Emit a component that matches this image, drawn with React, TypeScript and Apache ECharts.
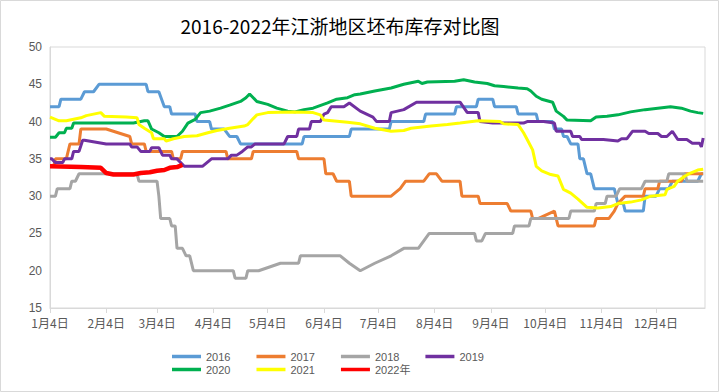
import React, { useEffect, useRef } from "react";
import * as echarts from "echarts";

const TITLE = "2016-2022年江浙地区坯布库存对比图";
const MONTH_DAYS = [31, 28, 31, 30, 31, 30, 31, 31, 30, 31, 30, 31];
// daily categories from 1月4日 to 12月31日
const categories: string[] = [];
MONTH_DAYS.forEach((n, mi) => {
  for (let d = 1; d <= n; d++) {
    if (mi === 0 && d < 4) continue;
    categories.push(`${mi + 1}月${d}日`);
  }
});

const seriesNames = ["2016", "2017", "2018", "2019", "2020", "2021", "2022年"];
const seriesColors = ["#5B9BD5", "#ED7D31", "#A5A5A5", "#7030A0", "#00B050", "#FFFF00", "#FF0000"];

// [day index from 1月4日, inventory]
const s2016 = [[0,42],[5,42],[6,43],[17,43],[19,44],[24,44],[27,45],[53,45],[54,44],[60,44],[63,42],[66,42],[67,41],[80,41],[81,40],[88,40],[89,39],[96,39],[99,38],[103,38],[105,37],[139,37],[140,38],[165,38],[166,39],[187,39],[188,40],[206,40],[207,41],[223,41],[224,42],[235,42],[236,43],[244,43],[245,42],[257,42],[258,41],[268,41],[269,40],[277,40],[278,39],[282,39],[283,38],[285,38],[287,37],[291,37],[292,35],[294,35],[296,33],[298,33],[300,31],[311,31],[313,29],[316,29],[317,28],[327,28],[328,30],[334,30],[336,31],[341,31],[343,32],[357,32],[359,33],[360,33]];
const s2017 = [[0,34],[2,34],[3,35],[9,35],[11,37],[16,37],[17,39],[31,39],[44,38],[45,37],[52,37],[53,36],[67,36],[68,35],[72,35],[73,36],[97,36],[98,35],[111,35],[112,36],[136,36],[137,35],[151,35],[152,33],[156,33],[158,32],[165,32],[166,30],[188,30],[193,31],[196,32],[206,32],[209,33],[213,33],[216,32],[226,32],[227,30],[236,30],[237,29],[252,29],[254,28],[265,28],[266,27],[269,27],[278,28],[280,26],[300,26],[301,27],[308,27],[311,28],[313,29],[317,30],[327,30],[328,31],[335,31],[336,32],[348,32],[350,33],[360,33]];
const s2018 = [[0,30],[3,30],[4,31],[11,31],[12,32],[14,32],[16,33],[48,33],[49,32],[59,32],[60,30],[61,27],[66,27],[67,26],[69,26],[70,23],[73,23],[75,22],[77,22],[79,20],[101,20],[102,19],[108,19],[109,20],[115,20],[127,21],[137,21],[138,22],[160,22],[165,21],[171,20],[179,21],[188,22],[195,23],[203,23],[209,25],[234,25],[235,24],[238,24],[240,25],[255,25],[256,26],[264,26],[265,27],[286,27],[287,28],[300,28],[301,29],[306,29],[307,30],[312,30],[314,31],[326,31],[328,32],[340,32],[341,33],[350,33],[351,32],[360,32]];
const s2019 = [[0,35],[1,35],[3,34.5],[7,34.5],[8,35],[12,35],[13,36],[16,36],[18,37.5],[19,37.5],[31,37],[44,37],[45,36.6],[48,36.6],[50,36],[55,36],[56,36.5],[60,36.5],[62,35.5],[66,35.5],[67,35],[70,35],[74,34],[84,34],[89,35],[98,35],[100,35.5],[103,35.5],[106,36],[109,36.6],[111,36.6],[113,37],[129,37],[131,38],[136,38],[137,39],[143,39],[144,40],[149,40],[151,41],[153,41.2],[155,42],[162,42],[165,42.5],[171,41.4],[178,40.6],[180,40],[187,40],[188,41.2],[195,41.6],[202,42.6],[226,42.6],[230,41.2],[236,41.2],[237,40],[244,39.8],[261,39.8],[263,40],[272,40],[278,39.8],[279,38.7],[287,38.7],[288,38],[292,38],[293,37.6],[305,37.6],[313,37.4],[315,37.7],[318,37.7],[321,38.7],[328,38.7],[330,38.4],[335,38.4],[337,38],[340,38],[343,38.7],[346,37.6],[351,37.6],[354,37.1],[358,37.1],[359,36.6],[360,37.8]];
const s2020 = [[0,37.9],[3,37.9],[5,38.5],[8,38.5],[9,39.1],[12,39.1],[13,39.8],[46,39.8],[52,40.1],[54,40.1],[56,39],[60,38.5],[63,38],[70,38],[73,38.7],[76,39.8],[80,40.3],[83,41.2],[88,41.4],[94,41.8],[99,42.2],[105,42.7],[108,43.2],[110,43.7],[114,42.7],[120,42.3],[125,41.8],[131,41.4],[135,41.3],[140,41.6],[145,41.8],[153,42.5],[158,43],[164,43.2],[168,43.6],[171,43.7],[179,44.1],[188,44.5],[195,45],[203,45.4],[205,45.1],[208,45.3],[223,45.4],[228,45.6],[234,45.3],[241,45.1],[245,44.8],[250,44.7],[258,44.5],[263,44.4],[265,44.1],[268,43.4],[271,43],[277,42.6],[279,41.4],[283,40.7],[285,40.2],[298,40.1],[301,40.6],[307,40.7],[313,40.9],[320,41.3],[328,41.6],[335,41.8],[342,42],[348,41.8],[353,41.4],[357,41.2],[360,41.1]];
const s2021 = [[0,40.6],[5,40.1],[9,40.1],[17,40.5],[20,40.8],[28,41.2],[30,40.7],[42,40.6],[48,40.5],[49,39.6],[52,39.1],[56,38.5],[57,37.7],[63,37.7],[64,37.4],[68,37.7],[74,38],[81,38.1],[87,38.5],[92,38.8],[99,39.1],[107,39.4],[109,39.6],[112,40.4],[114,40.9],[120,41.2],[134,41.3],[145,41.2],[149,40.9],[151,40.2],[164,39.9],[171,39.7],[179,39.1],[188,38.7],[195,38.8],[199,39.1],[210,39.4],[219,39.6],[226,39.8],[236,40.1],[248,40],[250,39.7],[258,39.6],[261,38.5],[263,37.6],[266,36.2],[268,34],[271,33.4],[276,32.9],[280,32.7],[283,30.9],[287,30.4],[291,29.6],[296,28.5],[302,28.4],[309,28.6],[313,29],[320,29.2],[326,29.5],[331,30],[339,30.2],[340,30.9],[344,31.3],[346,32],[350,32.7],[353,33.1],[357,33.5],[360,33.6]];
const s2022 = [[0,34],[17,33.9],[28,33.8],[31,33.1],[35,32.9],[46,32.9],[50,33.1],[55,33.2],[59,33.4],[63,33.5],[66,33.8],[70,33.9],[73,34.2]];

const seriesData = [s2016, s2017, s2018, s2019, s2020, s2021, s2022];
const yTicks = { min: 15, max: 50, interval: 5 };

const FONT = "'Noto Sans CJK SC', 'Noto Sans', sans-serif";
const LATIN_FONT = "'Liberation Sans', 'Noto Sans CJK SC', sans-serif";
const isTick = (_i: number, v: string) => /^\d+月4日$/.test(v);

export default function App() {
  const ref = useRef<HTMLDivElement>(null);
  useEffect(() => {
    if (!ref.current) return;
    const chart = echarts.init(ref.current, null, { renderer: "svg" });
    const legendCommon = {
      left: 172,
      itemWidth: 29,
      itemHeight: 3.5,
      itemGap: 26,
      icon: "rect",
      padding: 0,
      textStyle: { color: "#595959", fontSize: 11, lineHeight: 12, fontFamily: LATIN_FONT },
    };
    chart.setOption({
      animation: false,
      backgroundColor: "#ffffff",
      textStyle: { fontFamily: FONT },
      graphic: [
        {
          type: "rect",
          shape: { x: 0.5, y: 0.5, width: 718, height: 391 },
          style: { fill: "none", stroke: "#d9d9d9", lineWidth: 1 },
          silent: true,
        },
        {
          type: "text",
          x: 340,
          y: 25,
          style: {
            text: TITLE,
            fontSize: 19,
            fontFamily: FONT,
            fill: "#000000",
            textAlign: "center",
            textVerticalAlign: "middle",
          },
        },
      ],
      legend: [
        { ...legendCommon, top: 350.5, data: seriesNames.slice(0, 4) },
        { ...legendCommon, top: 363.5, data: seriesNames.slice(4) },
      ],
      grid: {
        left: 50,
        right: 14,
        top: 47,
        bottom: 84,
        show: true,
        borderColor: "#d9d9d9",
        borderWidth: 1,
      },
      xAxis: {
        type: "category",
        data: categories,
        boundaryGap: false,
        axisLine: { lineStyle: { color: "#d9d9d9" } },
        axisTick: { interval: isTick, length: 5, lineStyle: { color: "#d9d9d9" } },
        axisLabel: { interval: isTick, color: "#595959", fontSize: 12, margin: 8 },
        splitLine: { show: false },
      },
      yAxis: {
        type: "value",
        min: yTicks.min,
        max: yTicks.max,
        interval: yTicks.interval,
        axisLine: { show: true, lineStyle: { color: "#d9d9d9" } },
        axisTick: { show: false },
        axisLabel: { color: "#595959", fontSize: 12, margin: 8, fontFamily: LATIN_FONT },
        splitLine: { show: false },
      },
      series: seriesNames.map((name, i) => ({
        name,
        type: "line",
        data: seriesData[i],
        symbol: "none",
        color: seriesColors[i],
        lineStyle: { width: i === 6 ? 4.5 : 3, color: seriesColors[i] },
        itemStyle: { color: seriesColors[i] },
        z: 2 + i,
      })),
    });
    return () => chart.dispose();
  }, []);
  return (
    <div
      ref={ref}
      style={{ position: "absolute", left: 0, top: 0, width: 719, height: 392, background: "#fff" }}
    />
  );
}
